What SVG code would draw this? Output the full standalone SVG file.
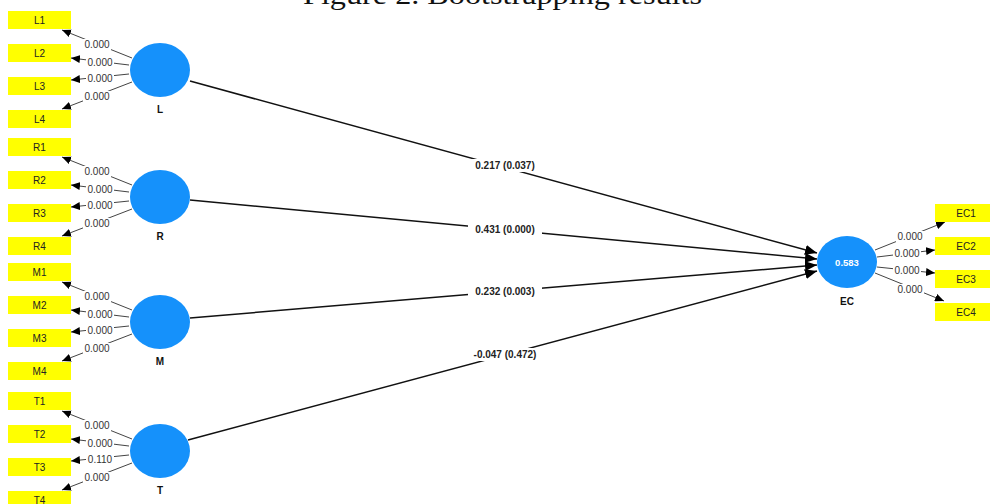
<svg xmlns="http://www.w3.org/2000/svg" width="990" height="504" viewBox="0 0 990 504">
<style>
.box{fill:#ffff00}
.bt{font-family:"Liberation Sans",Arial,sans-serif;font-size:10px;fill:#222;text-anchor:middle}
.lv{fill:#1591fb}
.nm{font-family:"Liberation Sans",Arial,sans-serif;font-size:10px;font-weight:bold;fill:#111;text-anchor:middle}
.ln{stroke:#444;stroke-width:1;fill:none;marker-end:url(#a)}
.sl{stroke:#111;stroke-width:1.5;fill:none;marker-end:url(#b)}
.lb{font-family:"Liberation Sans",Arial,sans-serif;font-size:10px;fill:#333;text-anchor:middle}
.pl{font-family:"Liberation Sans",Arial,sans-serif;font-size:10px;font-weight:bold;fill:#222;text-anchor:middle}
.bg{fill:#fff}
</style>
<defs>
<marker id="a" markerUnits="userSpaceOnUse" markerWidth="10" markerHeight="8" refX="9" refY="4" orient="auto"><path d="M0,0 L9,4 L0,8 Z" fill="#000"/></marker>
<marker id="b" markerUnits="userSpaceOnUse" markerWidth="13" markerHeight="10" refX="12" refY="5" orient="auto"><path d="M0,0 L12,5 L0,10 Z" fill="#000"/></marker>
</defs>
<rect width="990" height="504" fill="#fff"/>
<text x="303" y="4" font-family="Liberation Serif,serif" font-size="28" fill="#111" textLength="399" lengthAdjust="spacingAndGlyphs">Figure 2. Bootstrapping results</text>

<g id="connectors">
<line class="sl" x1="190" y1="81" x2="817" y2="253"/>
<line class="sl" x1="190" y1="200" x2="817" y2="259"/>
<line class="sl" x1="190" y1="318" x2="817" y2="265"/>
<line class="sl" x1="188" y1="440" x2="817" y2="271"/>
<rect class="bg" x="468" y="159" width="74" height="13"/>
<rect class="bg" x="468" y="223" width="74" height="13"/>
<rect class="bg" x="468" y="285" width="74" height="13"/>
<rect class="bg" x="465" y="348" width="80" height="13"/>
<text class="pl" x="505" y="169">0.217 (0.037)</text>
<text class="pl" x="505" y="233">0.431 (0.000)</text>
<text class="pl" x="505" y="295">0.232 (0.003)</text>
<text class="pl" x="505" y="358">-0.047 (0.472)</text>

<line class="ln" x1="132" y1="58" x2="62" y2="30"/>
<line class="ln" x1="129" y1="65" x2="71" y2="58"/>
<line class="ln" x1="129" y1="74" x2="71" y2="80"/>
<line class="ln" x1="132" y1="82" x2="62" y2="109"/>
<line class="ln" x1="132" y1="185" x2="62" y2="157"/>
<line class="ln" x1="129" y1="192" x2="71" y2="185"/>
<line class="ln" x1="129" y1="201" x2="71" y2="207"/>
<line class="ln" x1="132" y1="209" x2="62" y2="236"/>
<line class="ln" x1="132" y1="310" x2="62" y2="282"/>
<line class="ln" x1="129" y1="317" x2="71" y2="310"/>
<line class="ln" x1="129" y1="326" x2="71" y2="332"/>
<line class="ln" x1="132" y1="334" x2="62" y2="361"/>
<line class="ln" x1="132" y1="439" x2="62" y2="411"/>
<line class="ln" x1="129" y1="446" x2="71" y2="439"/>
<line class="ln" x1="129" y1="455" x2="71" y2="461"/>
<line class="ln" x1="132" y1="463" x2="62" y2="490"/>
<line class="ln" x1="875" y1="250" x2="945" y2="222"/>
<line class="ln" x1="877" y1="257" x2="935" y2="250"/>
<line class="ln" x1="877" y1="267" x2="935" y2="273"/>
<line class="ln" x1="875" y1="273" x2="944" y2="301"/>

<g fill="#fff">
<rect x="83" y="39" width="28" height="11"/><rect x="86" y="57" width="28" height="11"/><rect x="86" y="73" width="28" height="11"/><rect x="83" y="91" width="28" height="11"/>
<rect x="83" y="166" width="28" height="11"/><rect x="86" y="184" width="28" height="11"/><rect x="86" y="200" width="28" height="11"/><rect x="83" y="218" width="28" height="11"/>
<rect x="83" y="291" width="28" height="11"/><rect x="86" y="309" width="28" height="11"/><rect x="86" y="325" width="28" height="11"/><rect x="83" y="343" width="28" height="11"/>
<rect x="83" y="420" width="28" height="11"/><rect x="86" y="438" width="28" height="11"/><rect x="86" y="454" width="28" height="11"/><rect x="83" y="472" width="28" height="11"/>
<rect x="896" y="231" width="28" height="11"/><rect x="893" y="248" width="28" height="11"/><rect x="893" y="265" width="28" height="11"/><rect x="896" y="284" width="28" height="11"/>
</g>
<text class="lb" x="97" y="47.5">0.000</text>
<text class="lb" x="100" y="65.5">0.000</text>
<text class="lb" x="100" y="81.5">0.000</text>
<text class="lb" x="97" y="99.5">0.000</text>
<text class="lb" x="97" y="174.5">0.000</text>
<text class="lb" x="100" y="192.5">0.000</text>
<text class="lb" x="100" y="208.5">0.000</text>
<text class="lb" x="97" y="226.5">0.000</text>
<text class="lb" x="97" y="299.5">0.000</text>
<text class="lb" x="100" y="317.5">0.000</text>
<text class="lb" x="100" y="333.5">0.000</text>
<text class="lb" x="97" y="351.5">0.000</text>
<text class="lb" x="97" y="428.5">0.000</text>
<text class="lb" x="100" y="446.5">0.000</text>
<text class="lb" x="100" y="462.5">0.110</text>
<text class="lb" x="97" y="480.5">0.000</text>
<text class="lb" x="910" y="239.5">0.000</text>
<text class="lb" x="907" y="256.5">0.000</text>
<text class="lb" x="907" y="273.5">0.000</text>
<text class="lb" x="910" y="292.5">0.000</text>
</g>

<g id="L"><ellipse class="lv" cx="160" cy="70" rx="30" ry="27"/><text class="nm" x="160" y="113">L</text></g>
<g id="R"><ellipse class="lv" cx="160" cy="197" rx="30" ry="27"/><text class="nm" x="160" y="240">R</text></g>
<g id="M"><ellipse class="lv" cx="160" cy="322" rx="30" ry="27"/><text class="nm" x="160" y="365">M</text></g>
<g id="T"><ellipse class="lv" cx="160" cy="451" rx="30" ry="27"/><text class="nm" x="160" y="494">T</text></g>
<g id="EC"><ellipse class="lv" cx="847" cy="262" rx="30" ry="26"/><text class="nm" x="847" y="265.5" style="fill:#fff;font-size:9.5px">0.583</text><text class="nm" x="847" y="305">EC</text></g>

<g id="L1"><rect class="box" x="8" y="11" width="63" height="18"/><text class="bt" x="39.5" y="23.5">L1</text></g>
<g id="L2"><rect class="box" x="8" y="44" width="63" height="18"/><text class="bt" x="39.5" y="56.5">L2</text></g>
<g id="L3"><rect class="box" x="8" y="77" width="63" height="18"/><text class="bt" x="39.5" y="89.5">L3</text></g>
<g id="L4"><rect class="box" x="8" y="110" width="63" height="18"/><text class="bt" x="39.5" y="122.5">L4</text></g>
<g id="R1"><rect class="box" x="8" y="138" width="63" height="18"/><text class="bt" x="39.5" y="150.5">R1</text></g>
<g id="R2"><rect class="box" x="8" y="171" width="63" height="18"/><text class="bt" x="39.5" y="183.5">R2</text></g>
<g id="R3"><rect class="box" x="8" y="204" width="63" height="18"/><text class="bt" x="39.5" y="216.5">R3</text></g>
<g id="R4"><rect class="box" x="8" y="237" width="63" height="18"/><text class="bt" x="39.5" y="249.5">R4</text></g>
<g id="M1"><rect class="box" x="8" y="263" width="63" height="18"/><text class="bt" x="39.5" y="275.5">M1</text></g>
<g id="M2"><rect class="box" x="8" y="296" width="63" height="18"/><text class="bt" x="39.5" y="308.5">M2</text></g>
<g id="M3"><rect class="box" x="8" y="329" width="63" height="18"/><text class="bt" x="39.5" y="341.5">M3</text></g>
<g id="M4"><rect class="box" x="8" y="362" width="63" height="18"/><text class="bt" x="39.5" y="374.5">M4</text></g>
<g id="T1"><rect class="box" x="8" y="392" width="63" height="18"/><text class="bt" x="39.5" y="404.5">T1</text></g>
<g id="T2"><rect class="box" x="8" y="425" width="63" height="18"/><text class="bt" x="39.5" y="437.5">T2</text></g>
<g id="T3"><rect class="box" x="8" y="458" width="63" height="18"/><text class="bt" x="39.5" y="470.5">T3</text></g>
<g id="T4"><rect class="box" x="8" y="491" width="63" height="18"/><text class="bt" x="39.5" y="503.5">T4</text></g>
<g id="EC1"><rect class="box" x="935" y="204" width="55" height="18"/><text class="bt" x="966" y="216.5">EC1</text></g>
<g id="EC2"><rect class="box" x="935" y="237" width="55" height="18"/><text class="bt" x="966" y="249.5">EC2</text></g>
<g id="EC3"><rect class="box" x="935" y="270" width="55" height="18"/><text class="bt" x="966" y="282.5">EC3</text></g>
<g id="EC4"><rect class="box" x="935" y="303" width="55" height="18"/><text class="bt" x="966" y="315.5">EC4</text></g>
</svg>
